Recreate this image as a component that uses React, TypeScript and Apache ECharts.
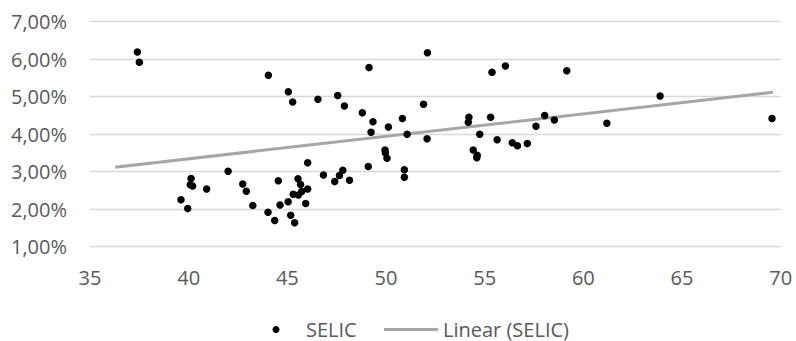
import React, { useEffect, useRef } from "react";
import * as echarts from "echarts";

const selicX: number[] = [
  37.4, 37.5, 39.61, 39.95, 40.12, 40.08, 40.2, 40.91, 42.0, 42.74, 42.92, 43.25,
  44.02, 44.04, 44.36, 44.54, 44.63, 45.05, 45.04, 45.17, 45.27, 45.3, 45.37, 45.56,
  45.54, 45.67, 45.73, 45.93, 46.03, 46.03, 46.55, 46.83, 47.4, 47.55, 47.64, 47.81,
  47.89, 48.15, 48.8, 49.1, 49.14, 49.24, 49.34, 49.95, 49.97, 50.05, 50.12, 50.83,
  50.93, 50.93, 51.07, 51.9, 52.08, 52.1, 54.17, 54.2, 54.42, 54.62, 54.6, 54.75,
  55.3, 55.37, 55.63, 56.05, 56.4, 56.66, 57.16, 57.6, 58.04, 58.53, 59.16, 61.19,
  63.89, 69.56,
];
const selicY: number[] = [
  6.19, 5.92, 2.25, 2.02, 2.82, 2.65, 2.62, 2.54, 3.01, 2.67, 2.48, 2.1,
  1.92, 5.57, 1.7, 2.76, 2.11, 5.13, 2.2, 1.84, 4.86, 2.4, 1.64, 2.38,
  2.81, 2.66, 2.47, 2.15, 2.54, 3.24, 4.93, 2.91, 2.74, 5.03, 2.9, 3.04,
  4.75, 2.77, 4.57, 3.14, 5.78, 4.05, 4.33, 3.58, 3.5, 3.36, 4.19, 4.42,
  3.05, 2.85, 4.0, 4.8, 3.88, 6.17, 4.32, 4.45, 3.58, 3.44, 3.37, 4.0,
  4.45, 5.65, 3.85, 5.82, 3.77, 3.69, 3.75, 4.21, 4.5, 4.38, 5.69, 4.29,
  5.02, 4.42,
];
const trendX: number[] = [36.27, 69.6];
const trendY: number[] = [3.12, 5.12];

const xMin = 35, xMax = 70, xStep = 5;
const yMin = 1, yMax = 7, yStep = 1;
const seriesName = "SELIC";
const trendName = "Linear (SELIC)";

const FONT = "'Open Sans', sans-serif";
const TEXT = "#595959";
const FS = 20;

export default function App() {
  const ref = useRef<HTMLDivElement>(null);
  useEffect(() => {
    if (!ref.current) return;
    const chart = echarts.init(ref.current, undefined, { renderer: "svg" });
    const pts = selicX.map((x, i) => [x, selicY[i]]);
    const trend = trendX.map((x, i) => [x, trendY[i]]);
    chart.setOption({
      animation: false,
      backgroundColor: "#ffffff",
      textStyle: { fontFamily: FONT },
      grid: { left: 90, right: 15.3, top: 21.7, bottom: 94.3, containLabel: false },
      xAxis: {
        type: "value",
        min: xMin,
        max: xMax,
        interval: xStep,
        axisLine: { show: false },
        axisTick: { show: false },
        splitLine: { show: false },
        axisLabel: { color: TEXT, fontSize: FS, fontFamily: FONT, margin: 21 },
      },
      yAxis: {
        type: "value",
        min: yMin,
        max: yMax,
        interval: yStep,
        axisLine: { show: false },
        axisTick: { show: false },
        splitLine: { show: true, lineStyle: { color: "#d9d9d9", width: 1.3 } },
        axisLabel: {
          color: TEXT,
          fontSize: FS,
          fontFamily: FONT,
          margin: 23,
          formatter: (v: number) => v.toFixed(2).replace(".", ",") + "%",
        },
      },
      series: [
        {
          name: trendName,
          type: "line",
          data: trend,
          symbol: "none",
          lineStyle: { color: "#a6a6a6", width: 3 },
          z: 2,
        },
        {
          name: seriesName,
          type: "scatter",
          data: pts,
          symbol: "circle",
          symbolSize: 7.5,
          itemStyle: { color: "#000000", opacity: 1 },
          z: 3,
        },
      ],
      graphic: [
        { type: "circle", shape: { cx: 276, cy: 329.5, r: 3.5 }, style: { fill: "#000" } },
        {
          type: "text",
          x: 306,
          y: 329,
          style: {
            text: seriesName,
            fill: TEXT,
            font: `${FS}px ${FONT}`,
            lineHeight: 20,
            textVerticalAlign: "middle",
          },
        },
        {
          type: "line",
          shape: { x1: 384, y1: 329.5, x2: 438, y2: 329.5 },
          style: { stroke: "#a6a6a6", lineWidth: 3 },
        },
        {
          type: "text",
          x: 443,
          y: 329,
          style: {
            text: trendName,
            fill: TEXT,
            font: `${FS}px ${FONT}`,
            lineHeight: 20,
            textVerticalAlign: "middle",
          },
        },
      ],
    });
    return () => chart.dispose();
  }, []);
  return <div ref={ref} style={{ width: 796, height: 341, position: "absolute", left: 0, top: 0 }} />;
}
